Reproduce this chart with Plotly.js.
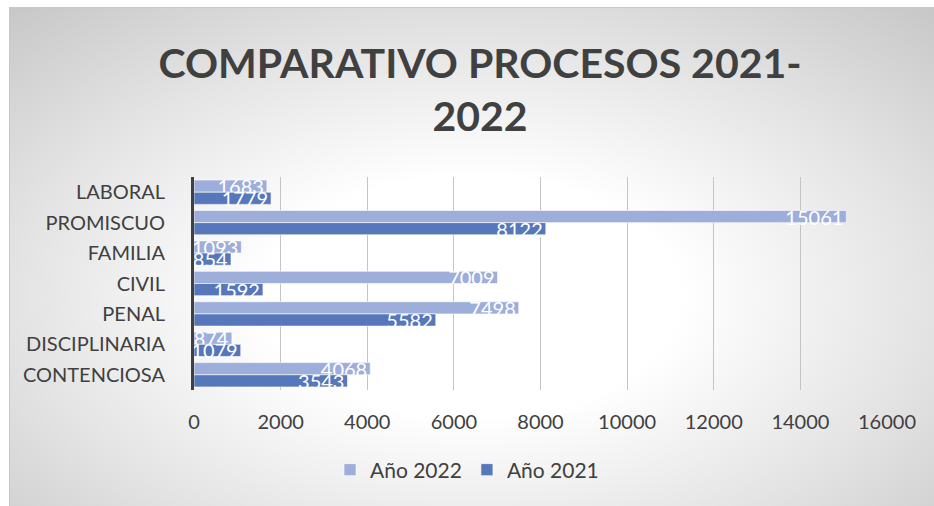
<!DOCTYPE html>
<html>
<head>
<meta charset="utf-8">
<script src="https://cdn.plot.ly/plotly-3.0.1.min.js"></script>
<style>
html,body{margin:0;padding:0;background:#ffffff;}
#frame{position:absolute;left:9px;top:7px;width:924px;height:498px;border:1px solid #c8c8c8;
background:radial-gradient(ellipse 75% 80% at 50% 58%, #ffffff 0%, #ffffff 30%, #e4e4e4 65%, #c6c6c6 100%);}
#chart{position:absolute;left:0;top:0;width:934px;height:506px;}
</style>
</head>
<body>
<div id="frame"></div>
<div id="chart"></div>
<script>
const categories = ["LABORAL","PROMISCUO","FAMILIA","CIVIL","PENAL","DISCIPLINARIA","CONTENCIOSA"];
const values2022 = [1683, 15061, 1093, 7009, 7498, 874, 4068];
const values2021 = [1779, 8122, 854, 1592, 5582, 1079, 3543];
const xTicks = [0, 2000, 4000, 6000, 8000, 10000, 12000, 14000, 16000];

const FONT = "Lato, 'Open Sans', sans-serif";
const labelFont = {family: FONT, size: 20, color: "#ffffff"};

const traces = [
  {
    type: "bar", orientation: "h", name: "Año 2022",
    x: values2022, y: categories,
    marker: {color: "#9eaedb", line: {color: "rgba(255,255,255,0.6)", width: 1}},
    text: values2022.map(String), textposition: "inside", insidetextanchor: "end",
    constraintext: "none", textangle: 0, textfont: labelFont, cliponaxis: false
  },
  {
    type: "bar", orientation: "h", name: "Año 2021",
    x: values2021, y: categories,
    marker: {color: "#5677ba", line: {color: "rgba(255,255,255,0.6)", width: 1}},
    text: values2021.map(String), textposition: "inside", insidetextanchor: "end",
    constraintext: "none", textangle: 0, textfont: labelFont, cliponaxis: false
  }
];

const layout = {
  width: 934, height: 506,
  paper_bgcolor: "rgba(0,0,0,0)", plot_bgcolor: "rgba(0,0,0,0)",
  margin: {l: 194, r: 47, t: 177, b: 116},
  title: {
    text: "<b>COMPARATIVO PROCESOS 2021-<br>2022</b>",
    font: {family: FONT, size: 41, color: "#404040"},
    x: 480 / 934, xref: "container", xanchor: "center",
    y: 1 - 78 / 506, yref: "container", yanchor: "middle"
  },
  barmode: "group", bargap: 0.2, bargroupgap: 0,
  showlegend: true,
  legend: {
    orientation: "h", x: 0.5, xref: "container", xanchor: "center",
    y: 1 - 470 / 506, yref: "container", yanchor: "middle",
    font: {family: FONT, size: 21, color: "#404040"},
    traceorder: "normal"
  },
  xaxis: {
    range: [0, 16000], tickvals: xTicks, ticktext: xTicks.map(String),
    showgrid: true, gridcolor: "#c4c4c4", gridwidth: 1,
    zeroline: false, showline: false, ticks: "",
    ticklabelstandoff: 18,
    tickfont: {family: FONT, size: 20, color: "#404040"}
  },
  yaxis: {
    type: "category", autorange: "reversed",
    showline: true, linecolor: "#404040", linewidth: 3,
    showgrid: false, zeroline: false, ticks: "",
    ticklabelstandoff: 22,
    tickfont: {family: FONT, size: 20, color: "#404040"}
  }
};

Plotly.newPlot("chart", traces, layout, {displayModeBar: false, staticPlot: true});
</script>
</body>
</html>
